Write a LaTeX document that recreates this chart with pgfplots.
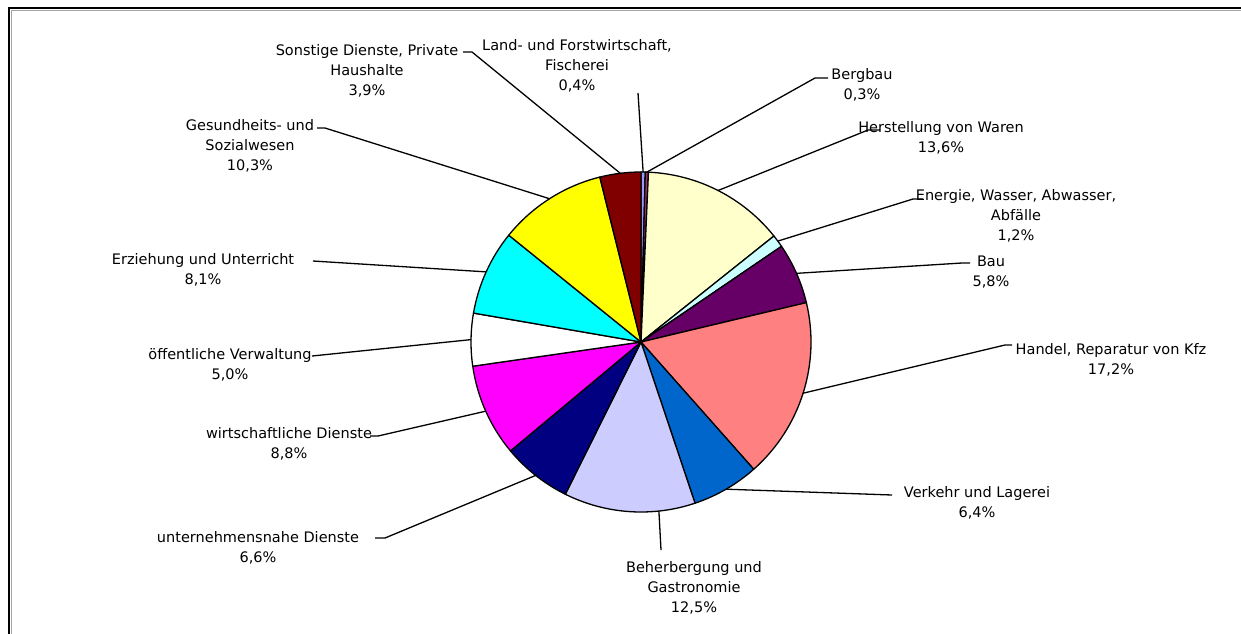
\documentclass[border=0pt]{standalone}
\usepackage{fontspec}
\setmainfont{DejaVu Sans}
\usepackage{pgfplots}
\usepackage{pgfplotstable}
\pgfplotsset{compat=1.18}

\definecolor{c0}{HTML}{9999FF}
\definecolor{c1}{HTML}{993366}
\definecolor{c2}{HTML}{FFFFCC}
\definecolor{c3}{HTML}{CCFFFF}
\definecolor{c4}{HTML}{660066}
\definecolor{c5}{HTML}{FF8080}
\definecolor{c6}{HTML}{0066CC}
\definecolor{c7}{HTML}{CCCCFF}
\definecolor{c8}{HTML}{000080}
\definecolor{c9}{HTML}{FF00FF}
\definecolor{c10}{HTML}{FFFFFF}
\definecolor{c11}{HTML}{00FFFF}
\definecolor{c12}{HTML}{FFFF00}
\definecolor{c13}{HTML}{800000}

% share in %, label centre (lx,ly), leader elbow (ex,ey) and end (fx,fy), px with y downwards
% dm = small turn of the leader start (degrees)
\pgfplotstableread{
share lx   ly  ex   ey  fx   fy  dm
0.4   577  66  638  93  638  93  0
0.3   862  85  815  78  828  78  0
13.6  941  138 868  130 880  130 0
1.2   1016 216 913  199 923  199 0
5.8   991  272 962  263 970  263 0
17.2  1111 360 1005 345 1012 345 0
6.4   977  503 892  495 892  495 0
12.5  694  588 661  550 661  550 10
6.6   258  548 385  538 375  538 0
8.8   289  444 378  436 370  436 0
5.0   230  365 312  356 312  356 0
8.1   203  270 313  261 313  261 0
10.3  250  146 325  128 317  128 0
3.9   367  71  472  52  463  52  0
}\piedata

\newcommand\setlbl[2]{\expandafter\def\csname lbl#1\endcsname{#2}}
\setlbl{0}{Land- und Forstwirtschaft,\\Fischerei}
\setlbl{1}{Bergbau}
\setlbl{2}{Herstellung von Waren}
\setlbl{3}{Energie, Wasser, Abwasser,\\Abfälle}
\setlbl{4}{Bau}
\setlbl{5}{Handel, Reparatur von Kfz}
\setlbl{6}{Verkehr und Lagerei}
\setlbl{7}{Beherbergung und\\Gastronomie}
\setlbl{8}{unternehmensnahe Dienste}
\setlbl{9}{wirtschaftliche Dienste}
\setlbl{10}{öffentliche Verwaltung}
\setlbl{11}{Erziehung und Unterricht}
\setlbl{12}{Gesundheits- und\\Sozialwesen}
\setlbl{13}{Sonstige Dienste, Private\\Haushalte}

\newcommand\grab[2]{% row, column -> \<column><row>
  \pgfplotstablegetelem{#1}{#2}\of\piedata
  \expandafter\xdef\csname #2#1\endcsname{\pgfplotsretval}}

% total and slice angles (start at 12 o'clock, clockwise)
\def\pietotal{0}
\pgfplotsforeachungrouped \i in {0,...,13}{%
  \pgfplotstablegetelem{\i}{share}\of\piedata
  \pgfmathsetmacro\pietotal{\pietotal+\pgfplotsretval}}
\def\piecum{0}
\pgfplotsforeachungrouped \i in {0,...,13}{%
  \pgfplotstablegetelem{\i}{share}\of\piedata
  \let\v\pgfplotsretval
  \expandafter\xdef\csname sv\i\endcsname{\v}%
  \pgfmathsetmacro\a{90-(\piecum/\pietotal)*360}%
  \pgfmathsetmacro\piecum{\piecum+\v}%
  \pgfmathsetmacro\b{90-(\piecum/\pietotal)*360}%
  \pgfplotstablegetelem{\i}{dm}\of\piedata
  \pgfmathsetmacro\m{(\a+\b)/2+\pgfplotsretval}%
  \expandafter\xdef\csname sa\i\endcsname{\a}%
  \expandafter\xdef\csname sb\i\endcsname{\b}%
  \expandafter\xdef\csname sm\i\endcsname{\m}%
  \grab{\i}{lx}\grab{\i}{ly}\grab{\i}{ex}\grab{\i}{ey}\grab{\i}{fx}\grab{\i}{fy}%
}

\begin{document}
\begin{tikzpicture}
\fill[white] (-3pt,-3pt) rectangle (1244pt,636pt);
\begin{axis}[
    at={(0,0)}, anchor=south west,
    x=1pt, y=1pt,
    xmin=0, xmax=1241, ymin=0, ymax=633,
    y dir=reverse,
    hide axis,
    scale only axis,
    clip=false,
]
% frame
\draw[line width=2pt, black] (axis cs:9,636) -- (axis cs:9,8) -- (axis cs:1244,8);
\draw[line width=0.8pt, black!35] (axis cs:11.5,636) -- (axis cs:11.5,10.5) -- (axis cs:1244,10.5);
% slices
\pgfplotsinvokeforeach{0,...,13}{
  \filldraw[fill=c#1, draw=black, line width=1.3pt, line join=round]
    (axis cs:641,342) -- ++(\csname sa#1\endcsname:170pt)
    arc[start angle=\csname sa#1\endcsname, end angle=\csname sb#1\endcsname, radius=170pt] -- cycle;
}
% leaders and labels
\pgfplotsinvokeforeach{0,...,13}{
  \draw[line width=1.3pt] (axis cs:641,342) ++(\csname sm#1\endcsname:170pt)
    -- (axis cs:\csname ex#1\endcsname,\csname ey#1\endcsname)
    -- (axis cs:\csname fx#1\endcsname,\csname fy#1\endcsname);
  \node[align=center, font=\fontsize{14.5}{20}\selectfont, inner sep=0pt]
    at (axis cs:\csname lx#1\endcsname,\csname ly#1\endcsname)
    {\csname lbl#1\endcsname\\\pgfmathprintnumber[fixed,fixed zerofill,precision=1,use comma,assume math mode=true]{\csname sv#1\endcsname}\%};
}
\end{axis}
\pgfresetboundingbox
\path (0,0) rectangle (1241pt,633pt);
\end{tikzpicture}
\end{document}
